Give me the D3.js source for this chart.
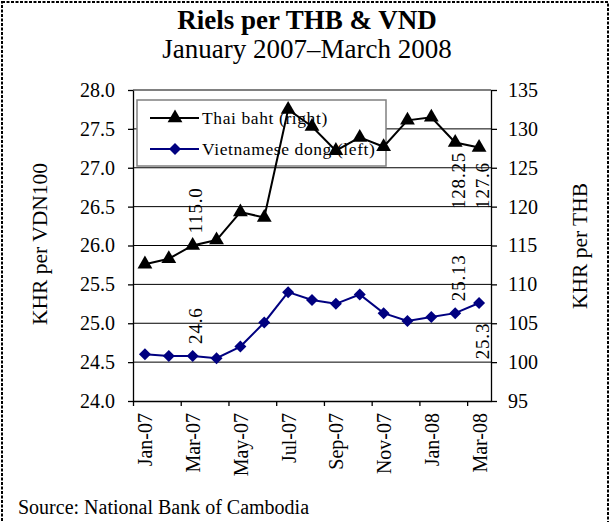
<!DOCTYPE html>
<html>
<head>
<meta charset="utf-8">
<script src="https://cdn.jsdelivr.net/npm/d3@7"></script>
<style>
  body { margin: 0; background: #fff; }
  text { font-family: "Liberation Serif", "Times New Roman", serif; fill: #000; }
</style>
</head>
<body>
<svg width="615" height="522"></svg>
<script>
var months = ["Jan-07", "Feb-07", "Mar-07", "Apr-07", "May-07", "Jun-07", "Jul-07", "Aug-07",
              "Sep-07", "Oct-07", "Nov-07", "Dec-07", "Jan-08", "Feb-08", "Mar-08"];
var thb = [112.6, 113.3, 115.0, 115.7, 119.3, 118.6, 132.5, 130.3, 127.2, 128.9, 127.7, 131.1, 131.5, 128.25, 127.6];
var vnd = [24.60, 24.58, 24.58, 24.55, 24.70, 25.01, 25.40, 25.30, 25.25, 25.37, 25.13, 25.03, 25.08, 25.13, 25.26];
var leftTicks = [24.0, 24.5, 25.0, 25.5, 26.0, 26.5, 27.0, 27.5, 28.0];
var rightTicks = [95, 100, 105, 110, 115, 120, 125, 130, 135];
var pointLabels = [
    { series: "thb", i: 2, text: "115.0", pos: "above" },
    { series: "thb", i: 13, text: "128.25", pos: "below" },
    { series: "thb", i: 14, text: "127.6", pos: "below" },
    { series: "vnd", i: 2, text: "24.6", pos: "above" },
    { series: "vnd", i: 13, text: "25.13", pos: "above" },
    { series: "vnd", i: 14, text: "25.3", pos: "below" }
];

var plotL = 133, plotR = 491, plotT = 90, plotB = 401;
var svg = d3.select("svg");

// outer dashed frame
svg.append("rect")
    .attr("x", 2).attr("y", 2).attr("width", 606).attr("height", 540)
    .attr("fill", "none").attr("stroke", "#000")
    .attr("stroke-width", 2).attr("stroke-dasharray", "3,1.5");

svg.append("text").attr("x", 307).attr("y", 29).attr("text-anchor", "middle")
    .style("font-size", "27px").style("font-weight", "bold").text("Riels per THB & VND");
svg.append("text").attr("x", 307).attr("y", 58).attr("text-anchor", "middle")
    .style("font-size", "27px").text("January 2007\u2013March 2008");

var xi = d3.scaleLinear().domain([0, months.length]).range([plotL, plotR]);
var yL = d3.scaleLinear().domain([24, 28]).range([plotB, plotT]);
var yR = d3.scaleLinear().domain([95, 135]).range([plotB, plotT]);
var cx = i => xi(i + 0.5);

// gridlines
svg.append("g").selectAll("line")
    .data(leftTicks.slice(1, -1))
    .enter().append("line")
    .attr("x1", plotL).attr("x2", plotR)
    .attr("y1", d => yL(d)).attr("y2", d => yL(d))
    .attr("stroke", "#000").attr("stroke-width", 1);
svg.append("line")
    .attr("x1", plotL).attr("x2", plotR).attr("y1", plotT).attr("y2", plotT)
    .attr("stroke", "#808080").attr("stroke-width", 2);

function styleAxis(g) {
    g.selectAll("path, line").attr("stroke", "#000").attr("stroke-width", 1.3);
    g.selectAll("text").style("font-size", "20px").attr("font-family", null);
}

svg.append("g").attr("transform", "translate(" + plotL + ",0)")
    .call(d3.axisLeft(yL).tickValues(leftTicks).tickFormat(d3.format(".1f")).tickSizeInner(5).tickSizeOuter(0).tickPadding(13))
    .call(styleAxis);
svg.append("g").attr("transform", "translate(" + plotR + ",0)")
    .call(d3.axisRight(yR).tickValues(rightTicks).tickSizeInner(6).tickSizeOuter(0).tickPadding(11))
    .call(styleAxis);

var step = xi(1) - xi(0);
var xAxis = svg.append("g").attr("transform", "translate(0," + plotB + ")")
    .call(d3.axisBottom(xi).tickValues(d3.range(0, months.length, 2)).tickFormat(i => months[i]).tickSizeInner(5).tickSizeOuter(0))
    .call(styleAxis);
xAxis.selectAll("text")
    .attr("transform", "translate(" + (step / 2) + ",12) rotate(-90)")
    .attr("x", 0).attr("y", 0).attr("dy", "0.35em")
    .attr("text-anchor", "end");

// axis titles
svg.append("text").attr("transform", "translate(47,244) rotate(-90)")
    .attr("text-anchor", "middle").style("font-size", "21.5px").text("KHR per VDN100");
svg.append("text").attr("transform", "translate(587,246) rotate(-90)")
    .attr("text-anchor", "middle").style("font-size", "21.5px").text("KHR per THB");

// legend
var legend = svg.append("g");
legend.append("rect").attr("x", 137).attr("y", 100).attr("width", 249).attr("height", 66)
    .attr("fill", "#fff").attr("stroke", "#808080").attr("stroke-width", 1.5);
var legendItems = [
    { name: "Thai baht (right)", color: "#000", symbol: "tri" },
    { name: "Vietnamese dong (left)", color: "#000080", symbol: "dia" }
];
var triangle = d3.symbol().type(d3.symbolTriangle).size(95);
var diamond = d3.symbol().type(d3.symbolSquare).size(72);

function marker(sel, kind, color) {
    sel.append("path")
        .attr("d", kind === "tri" ? triangle() : diamond())
        .attr("transform", kind === "tri" ? null : "rotate(45)")
        .attr("fill", color);
}

legendItems.forEach(function(d, k) {
    var y = 118 + k * 31;
    legend.append("line").attr("x1", 150).attr("x2", 199).attr("y1", y).attr("y2", y)
        .attr("stroke", d.color).attr("stroke-width", 2);
    var m = legend.append("g").attr("transform", "translate(175," + y + ")");
    marker(m, d.symbol, d.color);
    legend.append("text").attr("x", 202).attr("y", y).attr("dy", "0.35em")
        .style("font-size", "17.5px").style("letter-spacing", "0.6px").text(d.name);
});

// series
var lineR = d3.line().x((d, i) => cx(i)).y(d => yR(d));
var lineL = d3.line().x((d, i) => cx(i)).y(d => yL(d));

svg.append("path").datum(thb).attr("d", lineR)
    .attr("fill", "none").attr("stroke", "#000").attr("stroke-width", 2);
svg.append("g").selectAll("g").data(thb).enter().append("g")
    .attr("transform", (d, i) => "translate(" + cx(i) + "," + yR(d) + ")")
    .each(function() { marker(d3.select(this), "tri", "#000"); });

svg.append("path").datum(vnd).attr("d", lineL)
    .attr("fill", "none").attr("stroke", "#000080").attr("stroke-width", 2);
svg.append("g").selectAll("g").data(vnd).enter().append("g")
    .attr("transform", (d, i) => "translate(" + cx(i) + "," + yL(d) + ")")
    .each(function() { marker(d3.select(this), "dia", "#000080"); });

// data labels
svg.append("g").selectAll("text").data(pointLabels).enter().append("text")
    .attr("transform", function(d) {
        var py = d.series === "thb" ? yR(thb[d.i]) : yL(vnd[d.i]);
        var ly = d.pos === "above" ? py - 12 : py + 38;
        return "translate(" + (cx(d.i) + 3) + "," + ly + ") rotate(-90)";
    })
    .attr("text-anchor", d => d.pos === "above" ? "start" : "middle")
    .attr("dy", "0.35em")
    .style("font-size", "19px").style("letter-spacing", "0.8px")
    .text(d => d.text);

// source
svg.append("text").attr("x", 18).attr("y", 514).style("font-size", "20px")
    .text("Source: National Bank of Cambodia");
</script>
</body>
</html>
